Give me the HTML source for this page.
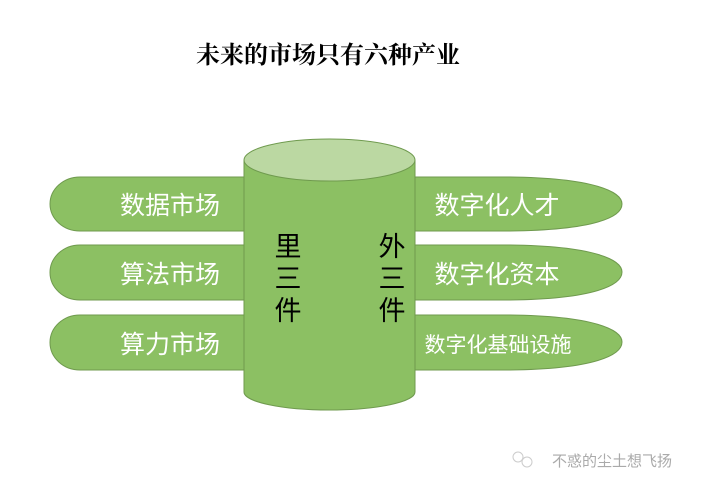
<!DOCTYPE html>
<html><head><meta charset="utf-8"><style>
body{margin:0;background:#fff;}
</style></head><body>
<svg width="702" height="490" xmlns="http://www.w3.org/2000/svg" style="display:block">
<text x="328" y="63" text-anchor="middle" font-family="'Liberation Serif','Noto Serif CJK SC',serif" font-size="24" font-weight="bold" fill="#000">未来的市场只有六种产业</text>
<g fill="#8cc063" stroke="#6f9a4e" stroke-width="1">
<path d="M260 177 H80 A30 27 0 0 0 80 231 H260 Z"/>
<path d="M260 245 H80 A30 27.5 0 0 0 80 300 H260 Z"/>
<path d="M260 315 H80 A30 27.5 0 0 0 80 370 H260 Z"/>
<path d="M400 177 H510 C595 178 622 192 622 204 C622 217 595 230 510 231 H400 Z"/>
<path d="M400 245 H510 C595 246 622 260 622 272 C622 285 595 299 510 300 H400 Z"/>
<path d="M400 315 H510 C595 316 622 330 622 342 C622 355 595 369 510 370 H400 Z"/>
<path d="M244 160 V392 A85.5 18 0 0 0 415 392 V160 Z"/>
</g>
<ellipse cx="329.5" cy="160" rx="85.5" ry="21" fill="#bbd8a2" stroke="#6f9a4e"/>
<g font-family="'Liberation Sans','Noto Sans CJK SC',sans-serif" fill="#fff" text-anchor="middle">
<text x="170" y="214" font-size="25">数据市场</text>
<text x="170" y="283" font-size="25">算法市场</text>
<text x="170" y="353" font-size="25">算力市场</text>
<text x="497" y="214" font-size="25">数字化人才</text>
<text x="497" y="283" font-size="25">数字化资本</text>
<text x="498" y="352" font-size="21">数字化基础设施</text>
</g>
<g font-family="'Liberation Sans','Noto Sans CJK SC',sans-serif" fill="#000" text-anchor="middle" font-size="27">
<text x="288" y="256">里</text><text x="288" y="288">三</text><text x="288" y="320">件</text>
<text x="392" y="256">外</text><text x="392" y="288">三</text><text x="392" y="320">件</text>
</g>
<text x="612" y="466" text-anchor="middle" font-family="'Liberation Sans','Noto Sans CJK SC',sans-serif" font-size="15" fill="#aaa">不惑的尘土想飞扬</text>
<circle cx="518" cy="457" r="5" fill="none" stroke="#ccc"/><circle cx="527" cy="462" r="5" fill="none" stroke="#ccc"/>
</svg>
</body></html>
